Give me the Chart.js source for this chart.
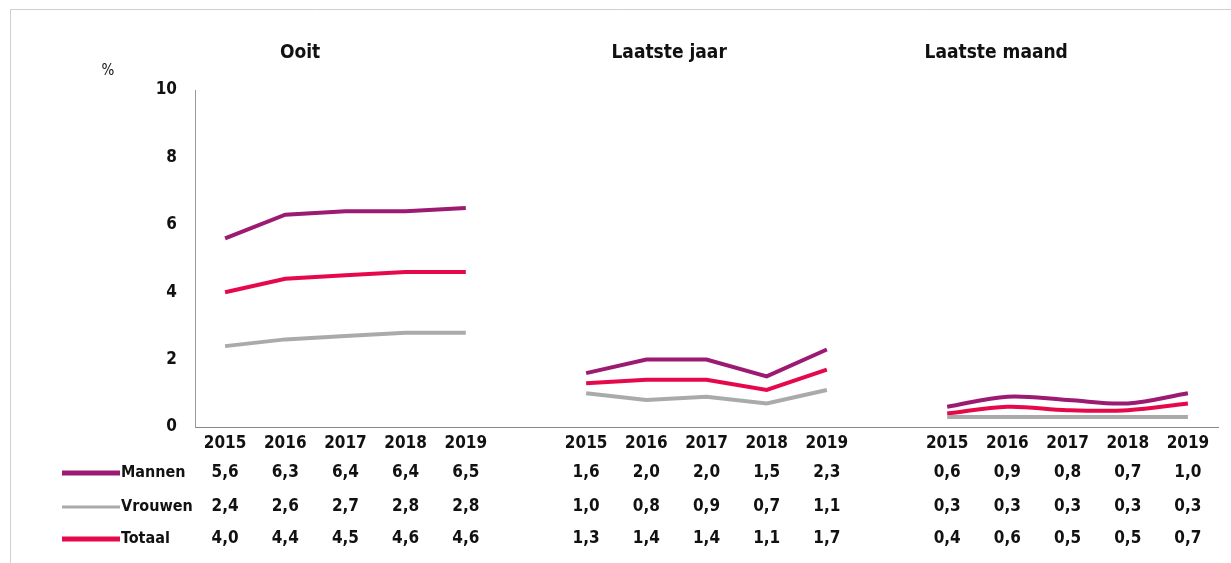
<!DOCTYPE html>
<html>
<head>
<meta charset="utf-8">
<script src="https://cdn.jsdelivr.net/npm/chart.js@4.4.1/dist/chart.umd.min.js"></script>
<style>
  html, body { margin: 0; background: #fff; }
  #wrap { width: 1231px; height: 563px; position: relative; }
</style>
</head>
<body>
<div id="wrap"><canvas id="chart"></canvas></div>
<script>
// data
const years = ['2015', '2016', '2017', '2018', '2019'];
const panels = ['Ooit', 'Laatste jaar', 'Laatste maand'];
const seriesNames = ['Mannen', 'Vrouwen', 'Totaal'];
const mannen  = [[5.6, 6.3, 6.4, 6.4, 6.5], [1.6, 2.0, 2.0, 1.5, 2.3], [0.6, 0.9, 0.8, 0.7, 1.0]];
const vrouwen = [[2.4, 2.6, 2.7, 2.8, 2.8], [1.0, 0.8, 0.9, 0.7, 1.1], [0.3, 0.3, 0.3, 0.3, 0.3]];
const totaal  = [[4.0, 4.4, 4.5, 4.6, 4.6], [1.3, 1.4, 1.4, 1.1, 1.7], [0.4, 0.6, 0.5, 0.5, 0.7]];
const yTicks = [0, 2, 4, 6, 8, 10];

const colors = { Mannen: '#9c1a72', Vrouwen: '#a9abab', Totaal: '#e5094b' };
const FONT = '"DejaVu Sans Condensed", "Liberation Sans", sans-serif';
const titleCenters = [75, 83, 49]; // title offset from first year of each panel
const tableRows = [473, 507, 539];

// 5 years per panel, one empty slot between panels
const labels = [];
panels.forEach((p, i) => {
    labels.push(...years);
    if (i < panels.length - 1) labels.push('');
});
const slot = (p, i) => p * (years.length + 1) + i;

const values = { Mannen: mannen, Vrouwen: vrouwen, Totaal: totaal };
const datasets = [];
['Vrouwen', 'Totaal', 'Mannen'].forEach(name => {
    panels.forEach((p, pi) => {
        const data = labels.map(() => null);
        values[name][pi].forEach((v, i) => { data[slot(pi, i)] = v; });
        datasets.push({
            label: name,
            data: data,
            borderColor: colors[name],
            borderWidth: 4,
            pointRadius: 0,
            tension: pi === 2 ? 0.35 : 0,
            spanGaps: false,
        });
    });
});

const fmt = v => v.toFixed(1).replace('.', ',');

const extras = {
    id: 'extras',
    beforeDraw(chart) {
        const ctx = chart.ctx;
        ctx.save();
        ctx.strokeStyle = '#cfcfcf';
        ctx.lineWidth = 1;
        ctx.beginPath();
        ctx.moveTo(10.5, 563);
        ctx.lineTo(10.5, 9.5);
        ctx.lineTo(1231, 9.5);
        ctx.stroke();
        ctx.restore();
    },
    afterDraw(chart) {
        const ctx = chart.ctx;
        const x = chart.scales.x;
        ctx.save();
        ctx.fillStyle = '#111';
        ctx.textBaseline = 'middle';

        // panel titles
        ctx.font = 'bold 19px ' + FONT;
        ctx.textAlign = 'center';
        panels.forEach((p, pi) => {
            ctx.fillText(p, x.getPixelForValue(slot(pi, 0)) + titleCenters[pi], 53);
        });

        // unit
        ctx.font = '15px ' + FONT;
        ctx.fillText('%', 108, 71);

        // data table
        seriesNames.forEach((name, r) => {
            const y = tableRows[r];
            ctx.strokeStyle = colors[name];
            ctx.lineWidth = name === 'Vrouwen' ? 3 : 5;
            ctx.beginPath();
            ctx.moveTo(62, y);
            ctx.lineTo(120, y);
            ctx.stroke();
            ctx.font = 'bold 16px ' + FONT;
            ctx.textAlign = 'left';
            ctx.fillText(name, 121, y);
            ctx.font = 'bold 17px ' + FONT;
            ctx.textAlign = 'center';
            panels.forEach((p, pi) => {
                values[name][pi].forEach((v, i) => {
                    ctx.fillText(fmt(v), x.getPixelForValue(slot(pi, i)), y);
                });
            });
        });
        ctx.restore();
    }
};

new Chart(document.getElementById('chart'), {
    type: 'line',
    data: { labels, datasets },
    options: {
        responsive: true,
        maintainAspectRatio: false,
        animation: false,
        layout: { padding: { top: 90, right: 13, left: 150, bottom: 0 } },
        plugins: { legend: { display: false }, tooltip: { enabled: false } },
        scales: {
            x: {
                offset: true,
                grid: { display: false, drawTicks: false, offset: true },
                border: { display: true, color: '#888', width: 1 },
                ticks: {
                    autoSkip: false,
                    maxRotation: 0,
                    padding: 6,
                    color: '#111',
                    font: { family: FONT, size: 17, weight: 'bold' }
                },
                afterFit: s => { s.height = 136; }
            },
            y: {
                min: 0,
                max: 10,
                afterBuildTicks: s => { s.ticks = yTicks.map(v => ({ value: v })); },
                grid: { display: false, drawTicks: false },
                border: { display: true, color: '#999', width: 1 },
                ticks: {
                    padding: 18,
                    color: '#111',
                    font: { family: FONT, size: 17, weight: 'bold' }
                },
                afterFit: s => { s.width = 45; }
            }
        }
    },
    plugins: [extras]
});
</script>
</body>
</html>
